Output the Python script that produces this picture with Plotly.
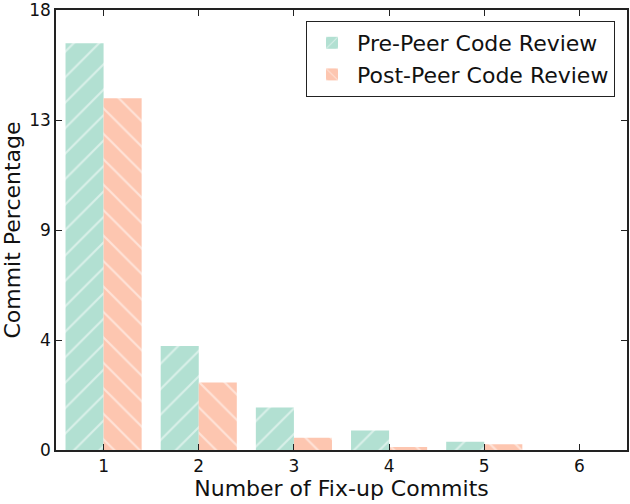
import plotly.graph_objects as go

fixup_commits = [1, 2, 3, 4, 5, 6]
pre_review = [16.64, 4.25, 1.74, 0.80, 0.34, 0.0]
post_review = [14.39, 2.76, 0.50, 0.12, 0.24, 0.0]
y_ticks = [0, 4.5, 9, 13.5, 18]
y_tick_labels = ["0", "4", "9", "13", "18"]

FONT = "DejaVu Sans"

fig = go.Figure()
fig.add_trace(go.Bar(
    x=fixup_commits, y=pre_review, name="Pre-Peer Code Review",
    marker={"color": "#b2e0d2", "line": {"width": 0},
            "pattern": {"shape": "/", "fgcolor": "#ffffff", "bgcolor": "#b2e0d2",
                        "size": 18, "solidity": 0.12}},
))
fig.add_trace(go.Bar(
    x=fixup_commits, y=post_review, name="Post-Peer Code Review",
    marker={"color": "#fdc6b0", "line": {"width": 0},
            "pattern": {"shape": "\\", "fgcolor": "#ffffff", "bgcolor": "#fdc6b0",
                        "size": 18, "solidity": 0.12}},
))

axis_common = {
    "showline": True, "linecolor": "#222", "linewidth": 1.5, "mirror": "ticks",
    "ticks": "inside", "ticklen": 6, "tickcolor": "#222", "showgrid": False,
    "zeroline": False, "automargin": False, "ticklabeloverflow": "allow",
    "tickfont": {"size": 17, "color": "#111"},
}

fig.update_layout(
    width=630, height=504,
    margin={"l": 56, "r": 3, "t": 10, "b": 54},
    font={"family": FONT, "color": "#111"},
    paper_bgcolor="white", plot_bgcolor="white",
    barmode="group", bargap=0.2, bargroupgap=0.0,
    xaxis={**axis_common, "range": [0.5, 6.5], "tickvals": fixup_commits,
           "title": {"text": "Number of Fix-up Commits", "font": {"size": 22}, "standoff": 2}},
    yaxis={**axis_common, "range": [0, 18.001], "tickvals": y_ticks, "ticktext": y_tick_labels,
           "title": {"text": "Commit Percentage", "font": {"size": 22}, "standoff": 6}},
    legend={"x": 0.979, "y": 0.975, "xanchor": "right", "yanchor": "top",
            "bordercolor": "#222", "borderwidth": 1, "bgcolor": "white",
            "itemwidth": 40, "font": {"size": 22, "color": "#111"}},
)

# the default page keeps the browser's 8px body margin; drop it so the figure fills the window
fig.write_html("out.html", config={"displayModeBar": False},
               post_script="document.body.style.margin='0';")
